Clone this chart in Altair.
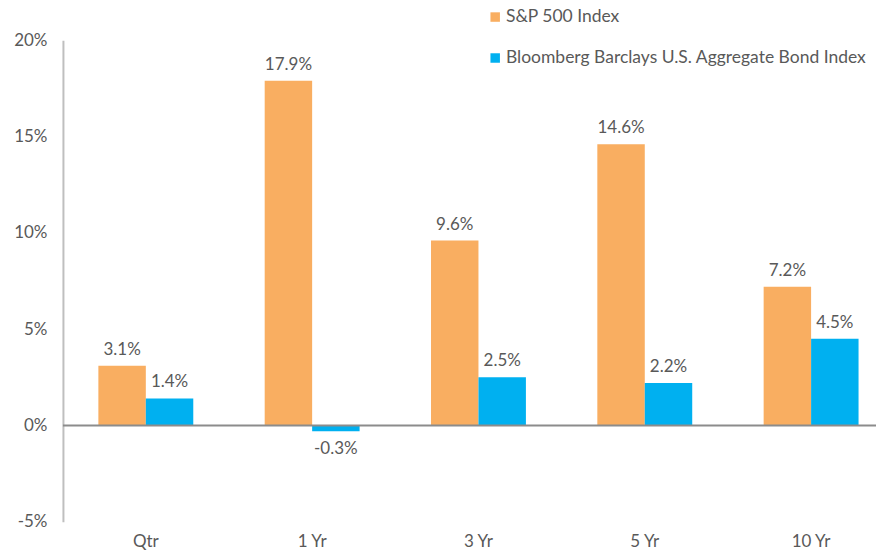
import altair as alt
import pandas as pd

categories = ["Qtr", "1 Yr", "3 Yr", "5 Yr", "10 Yr"]
series = ["S&P 500 Index", "Bloomberg Barclays U.S. Aggregate Bond Index"]
sp500 = [3.1, 17.9, 9.6, 14.6, 7.2]
agg_bond = [1.4, -0.3, 2.5, 2.2, 4.5]
colors = ["#F9AE61", "#00B0F0"]
y_ticks = [-5, 0, 5, 10, 15, 20]

rows = []
for i, c in enumerate(categories):
    for s, vals in zip(series, [sp500, agg_bond]):
        v = vals[i]
        rows.append({"cat": c, "series": s, "value": v, "label": f"{v:.1f}%"})
df = pd.DataFrame(rows)

FONT = "Lato"
GREY = "#595959"

x_enc = alt.X(
    "cat:N",
    sort=categories,
    scale=alt.Scale(paddingInner=0.4294, paddingOuter=0.159, align=0.67),
    axis=alt.Axis(title=None, labelAngle=0, domain=False, ticks=False, tickSize=0,
                  labelPadding=12, labelFontSize=17, labelColor=GREY, labelFont=FONT),
)
xoff = alt.XOffset("series:N", sort=series, scale=alt.Scale(paddingInner=0, paddingOuter=0))
y_enc = alt.Y(
    "value:Q",
    scale=alt.Scale(domain=[-5, 20], nice=False, zero=False),
    axis=alt.Axis(title=None, values=y_ticks, labelExpr="datum.value + '%'", grid=False,
                  ticks=False, tickSize=0, domainColor="#BFBFBF", domainWidth=2,
                  labelPadding=16, labelFontSize=17, labelColor=GREY, labelFont=FONT),
)

base = alt.Chart(df)

bars = base.mark_bar().encode(
    x=x_enc,
    xOffset=xoff,
    y=y_enc,
    color=alt.Color(
        "series:N",
        sort=series,
        scale=alt.Scale(domain=series, range=colors),
        legend=alt.Legend(
            title=None, orient="none", legendX=424, legendY=-32, direction="vertical",
            symbolType="square", symbolSize=90, symbolStrokeWidth=0, labelFontSize=17.5,
            labelColor=GREY, labelFont=FONT, rowPadding=22, labelOffset=2, padding=0,
            labelLimit=500,
        ),
    ),
)

pos_text = base.transform_filter("datum.value >= 0").mark_text(
    baseline="bottom", dy=-7, fontSize=17, font=FONT, color=GREY
).encode(x=x_enc, xOffset=xoff, y=y_enc, text="label:N")

neg_text = base.transform_filter("datum.value < 0").mark_text(
    baseline="top", dy=10, fontSize=17, font=FONT, color=GREY
).encode(x=x_enc, xOffset=xoff, y=y_enc, text="label:N")

zero = alt.Chart(pd.DataFrame({"z": [0]})).mark_rule(color="#8C8C8C", strokeWidth=2).encode(
    y=alt.Y("z:Q")
)

chart = alt.layer(bars, zero, pos_text, neg_text).properties(
    width=814, height=482, padding={"left": 5, "top": 0, "right": 0, "bottom": 0}
).configure_view(stroke=None)

chart.save("out.html", embed_options={"renderer": "svg", "actions": False})
